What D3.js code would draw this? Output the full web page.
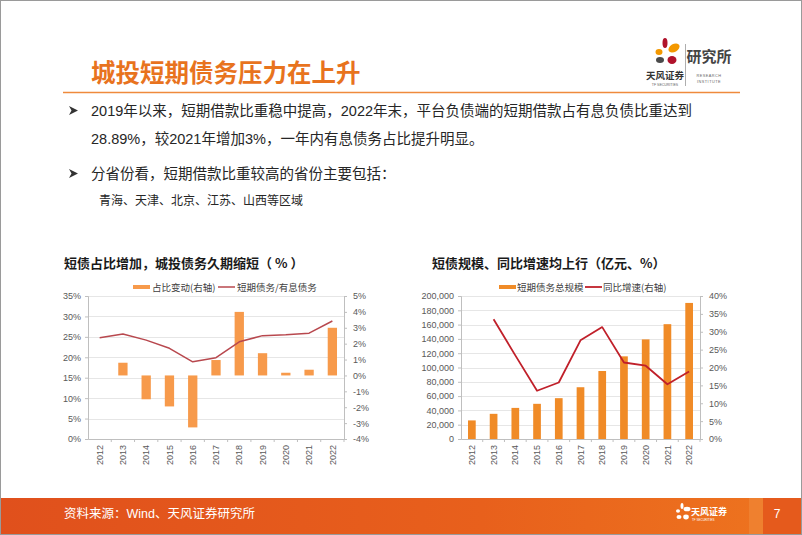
<!DOCTYPE html>
<html>
<head>
<meta charset="utf-8">
<script src="https://cdn.jsdelivr.net/npm/d3@7"></script>
<style>
  body { margin: 0; background: #fff; }
  svg { display: block; font-family: "Liberation Sans", Arial, "Noto Sans CJK SC", sans-serif; }
</style>
</head>
<body>
<svg id="page" width="802" height="535"></svg>
<script>
// data
const years = ["2012", "2013", "2014", "2015", "2016", "2017", "2018", "2019", "2020", "2021", "2022"];
const shareChange = [null, 0.8, -1.5, -1.95, -3.27, 0.97, 4.0, 1.4, 0.17, 0.36, 3.0];   // 占比变动(右轴) %
const shortShare = [24.8, 25.7, 24.2, 22.2, 18.9, 19.9, 23.8, 25.3, 25.5, 25.9, 28.89]; // 短期债务/有息债务 %
const shortDebt = [26000, 35200, 43500, 49200, 57100, 72400, 95100, 115600, 139300, 160600, 190300]; // 亿元
const growth = [null, 33.5, 23.4, 13.5, 15.8, 27.6, 31.3, 21.4, 20.5, 15.3, 18.9];      // 同比增速(右轴) %
const leftTicks1 = [0, 5, 10, 15, 20, 25, 30, 35];
const rightTicks1 = [-4, -3, -2, -1, 0, 1, 2, 3, 4, 5];
const leftTicks2 = [0, 20000, 40000, 60000, 80000, 100000, 120000, 140000, 160000, 180000, 200000];
const rightTicks2 = [0, 5, 10, 15, 20, 25, 30, 35, 40];

const svg = d3.select("#page");
const cjk = '"Noto Sans CJK SC", "Liberation Sans", sans-serif';

// page frame
svg.append("rect").attr("x", 0.5).attr("y", 0.5).attr("width", 801).attr("height", 534)
    .attr("fill", "none").attr("stroke", "#9a9a9a");

// title
svg.append("text").attr("x", 91).attr("y", 82)
    .attr("font-family", cjk).attr("font-size", 24.5).attr("font-weight", "bold")
    .attr("fill", "#E8731E").text("城投短期债务压力在上升");
svg.append("line").attr("x1", 63).attr("x2", 740).attr("y1", 92.5).attr("y2", 92.5)
    .attr("stroke", "#EF8A3C").attr("stroke-width", 1.5);

// logo
const logo = svg.append("g").attr("transform", "translate(667,55)");
logo.append("ellipse").attr("cx", -2).attr("cy", -12).attr("rx", 2.5).attr("ry", 5).attr("fill", "#B0122B");
logo.append("ellipse").attr("cx", 7).attr("cy", -7).attr("rx", 6).attr("ry", 4).attr("fill", "#F39800").attr("transform", "rotate(-30,7,-7)");
logo.append("ellipse").attr("cx", -8).attr("cy", -3).attr("rx", 3.5).attr("ry", 3).attr("fill", "#F39800");
logo.append("ellipse").attr("cx", -7).attr("cy", 5).attr("rx", 4).attr("ry", 3).attr("fill", "#4A4A4A");
logo.append("ellipse").attr("cx", 5).attr("cy", 5).attr("rx", 4.5).attr("ry", 4).attr("fill", "#B0122B");
svg.append("text").attr("x", 665).attr("y", 79).attr("text-anchor", "middle")
    .attr("font-family", cjk).attr("font-size", 9.5).attr("font-weight", "bold").attr("fill", "#333").text("天风证券");
svg.append("text").attr("x", 665).attr("y", 85.5).attr("text-anchor", "middle")
    .attr("font-size", 3.5).attr("fill", "#666").text("TF SECURITIES");
svg.append("line").attr("x1", 685.5).attr("x2", 685.5).attr("y1", 44).attr("y2", 86)
    .attr("stroke", "#999").attr("stroke-width", 0.8);
svg.append("text").attr("x", 709).attr("y", 62).attr("text-anchor", "middle")
    .attr("font-family", cjk).attr("font-size", 15).attr("font-weight", "bold").attr("fill", "#444").text("研究所");
svg.append("text").attr("x", 709).attr("y", 77).attr("text-anchor", "middle")
    .attr("font-size", 3.8).attr("letter-spacing", 0.5).attr("fill", "#666").text("RESEARCH");
svg.append("text").attr("x", 709).attr("y", 83).attr("text-anchor", "middle")
    .attr("font-size", 3.8).attr("letter-spacing", 0.5).attr("fill", "#666").text("INSTITUTE");

// bullet text
const body = [
    { x: 91, y: 116, size: 14.5, t: "2019年以来，短期借款比重稳中提高，2022年末，平台负债端的短期借款占有息负债比重达到", bullet: true },
    { x: 91, y: 144, size: 14.5, t: "28.89%，较2021年增加3%，一年内有息债务占比提升明显。" },
    { x: 91, y: 179, size: 14.5, t: "分省份看，短期借款比重较高的省份主要包括：", bullet: true },
    { x: 99, y: 204.5, size: 12, t: "青海、天津、北京、江苏、山西等区域" }
];
body.forEach(d => {
    if (d.bullet) {
        svg.append("path")
            .attr("d", `M69,${d.y - 10} L78,${d.y - 5.5} L69,${d.y - 1} L71.5,${d.y - 5.5} Z`)
            .attr("fill", "#333");
    }
    svg.append("text").attr("x", d.x).attr("y", d.y)
        .attr("font-family", '"Liberation Sans", "Noto Sans CJK SC", sans-serif')
        .attr("font-size", d.size).attr("fill", "#262626").text(d.t);
});

function drawChart(cfg) {
    const g = svg.append("g");
    const x = d3.scaleBand().domain(years).range([cfg.x0, cfg.x1]).paddingInner(cfg.pad).paddingOuter(cfg.pad / 2);
    const yL = d3.scaleLinear().domain(cfg.leftDomain).range([cfg.y1, cfg.y0]);
    const yR = d3.scaleLinear().domain(cfg.rightDomain).range([cfg.y1, cfg.y0]);

    // title
    g.append("text").attr("x", cfg.titleX).attr("y", 268)
        .attr("font-family", cjk).attr("font-size", 13).attr("font-weight", "bold")
        .attr("fill", "#1a1a1a").text(cfg.title);

    // grid
    g.selectAll(".grid").data(cfg.leftTicks.slice(1)).join("line")
        .attr("x1", cfg.x0).attr("x2", cfg.x1)
        .attr("y1", d => Math.round(yL(d)) + 0.5).attr("y2", d => Math.round(yL(d)) + 0.5)
        .attr("stroke", "#e6e6e6").attr("stroke-width", 1);

    const axisStyle = sel => {
        sel.select(".domain").attr("stroke", "#bfbfbf");
        sel.selectAll(".tick line").attr("stroke", "#bfbfbf");
        sel.selectAll(".tick text").attr("fill", "#595959").attr("font-size", 9)
            .attr("font-family", '"Liberation Sans", Arial, sans-serif');
    };

    g.append("g").attr("transform", `translate(${cfg.x0},0)`)
        .call(d3.axisLeft(yL).tickValues(cfg.leftTicks).tickFormat(cfg.leftFmt).tickSize(3).tickPadding(4))
        .call(axisStyle);
    g.append("g").attr("transform", `translate(${cfg.x1},0)`)
        .call(d3.axisRight(yR).tickValues(cfg.rightTicks).tickFormat(cfg.rightFmt).tickSize(3).tickPadding(6))
        .call(axisStyle);
    const xa = g.append("g").attr("transform", `translate(0,${cfg.y1})`)
        .call(d3.axisBottom(x).tickSize(3).tickSizeOuter(0))
        .call(axisStyle);
    xa.selectAll(".tick line").attr("transform", `translate(${x.step() / 2},0)`);
    xa.selectAll(".tick text")
        .attr("transform", "rotate(-90)")
        .attr("text-anchor", "end")
        .attr("x", -6).attr("y", 0).attr("dy", "0.35em");

    // bars
    const barScale = cfg.barsOnRight ? yR : yL;
    const bw = cfg.barW;
    g.selectAll(".bar").data(years.map((yr, i) => ({ yr, v: cfg.bars[i] })).filter(d => d.v != null))
        .join("rect")
        .attr("x", d => x(d.yr) + x.bandwidth() / 2 - bw / 2)
        .attr("width", bw)
        .attr("y", d => Math.min(barScale(d.v), barScale(0)))
        .attr("height", d => Math.abs(barScale(d.v) - barScale(0)))
        .attr("fill", cfg.barColor);

    // line
    const lineScale = cfg.barsOnRight ? yL : yR;
    const line = d3.line()
        .defined(d => d.v != null)
        .x(d => x(d.yr) + x.bandwidth() / 2)
        .y(d => lineScale(d.v));
    g.append("path")
        .datum(years.map((yr, i) => ({ yr, v: cfg.line[i] })))
        .attr("d", line)
        .attr("fill", "none")
        .attr("stroke", cfg.lineColor)
        .attr("stroke-width", cfg.lineW)
        .attr("stroke-linejoin", "round");

    // legend
    const lg = g.append("g").attr("font-family", cjk).attr("font-size", 9.5).attr("fill", "#404040");
    lg.append("rect").attr("x", cfg.legX[0]).attr("y", 285).attr("width", 17).attr("height", 4).attr("fill", cfg.barColor);
    lg.append("text").attr("x", cfg.legX[1]).attr("y", 290.5).text(cfg.legBar);
    lg.append("line").attr("x1", cfg.legX[2]).attr("x2", cfg.legX[2] + 17).attr("y1", 287).attr("y2", 287)
        .attr("stroke", cfg.lineColor).attr("stroke-width", cfg.lineW);
    lg.append("text").attr("x", cfg.legX[3]).attr("y", 290.5).text(cfg.legLine);
}

drawChart({
    title: "短债占比增加，城投债务久期缩短（ % ）", titleX: 64,
    x0: 88, x1: 344, y0: 296, y1: 439, pad: 0.6, barW: 9.3,
    leftDomain: [0, 35], rightDomain: [-4, 5],
    leftTicks: leftTicks1, rightTicks: rightTicks1,
    leftFmt: d => d + "%", rightFmt: d => d + "%",
    bars: shareChange, barsOnRight: true, barColor: "#F79A4B",
    line: shortShare, lineColor: "#B8484E", lineW: 1.5,
    legX: [133, 152, 218, 237], legBar: "占比变动(右轴)", legLine: "短期债务/有息债务"
});

drawChart({
    title: "短债规模、同比增速均上行（亿元、%）", titleX: 432,
    x0: 461, x1: 700, y0: 296, y1: 439, pad: 0.65, barW: 7.7,
    leftDomain: [0, 200000], rightDomain: [0, 40],
    leftTicks: leftTicks2, rightTicks: rightTicks2,
    leftFmt: d3.format(","), rightFmt: d => d + "%",
    bars: shortDebt, barsOnRight: false, barColor: "#F08B27",
    line: growth, lineColor: "#C0202A", lineW: 1.8,
    legX: [499, 517, 585, 603], legBar: "短期债务总规模", legLine: "同比增速(右轴)"
});

// footer band
const defs = svg.append("defs");
const grad = defs.append("linearGradient").attr("id", "foot");
grad.append("stop").attr("offset", "0%").attr("stop-color", "#E0501C");
grad.append("stop").attr("offset", "60%").attr("stop-color", "#E8601C");
grad.append("stop").attr("offset", "100%").attr("stop-color", "#EE751F");
svg.append("rect").attr("x", 1).attr("y", 498).attr("width", 800).attr("height", 36).attr("fill", "url(#foot)");
svg.append("rect").attr("x", 749).attr("y", 498).attr("width", 14).attr("height", 36).attr("fill", "#F08A3A").attr("opacity", 0.6);
svg.append("rect").attr("x", 763).attr("y", 498).attr("width", 38).attr("height", 36).attr("fill", "#E55A1C");
svg.append("text").attr("x", 64).attr("y", 518)
    .attr("font-family", '"Liberation Sans", "Noto Sans CJK SC", sans-serif')
    .attr("font-size", 12.5).attr("fill", "#fff").text("资料来源：Wind、天风证券研究所");
const fl = svg.append("g").attr("transform", "translate(683,513)").attr("fill", "#fff");
fl.append("ellipse").attr("cx", -1).attr("cy", -7).attr("rx", 1.5).attr("ry", 3);
fl.append("ellipse").attr("cx", 4).attr("cy", -4).attr("rx", 3.5).attr("ry", 2.3);
fl.append("ellipse").attr("cx", -5).attr("cy", -2).attr("rx", 2).attr("ry", 1.8);
fl.append("ellipse").attr("cx", -4).attr("cy", 4).attr("rx", 2.5).attr("ry", 2);
fl.append("ellipse").attr("cx", 3).attr("cy", 4).attr("rx", 2.8).attr("ry", 2.4);
svg.append("text").attr("x", 691).attr("y", 515)
    .attr("font-family", cjk).attr("font-size", 9).attr("font-weight", "bold").attr("fill", "#fff").text("天风证券");
svg.append("text").attr("x", 692).attr("y", 521)
    .attr("font-size", 3).attr("fill", "#fff").text("TF SECURITIES");
svg.append("text").attr("x", 777).attr("y", 518).attr("text-anchor", "middle")
    .attr("font-size", 12).attr("fill", "#fff").text("7");
</script>
</body>
</html>
